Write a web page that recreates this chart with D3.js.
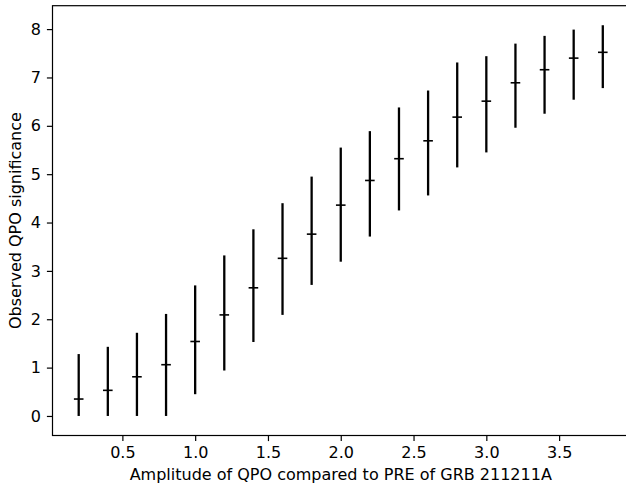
<!DOCTYPE html>
<html>
<head>
<meta charset="UTF-8">
<title>QPO significance vs amplitude</title>
<script type="text/javascript" src="https://d3js.org/d3.v7.min.js"></script>
<style>
body { margin: 0; background: #fff; }
text { font-family: "DejaVu Sans", sans-serif; fill: #000; }
</style>
</head>
<body>
<div id="plot"></div>

<script type="text/javascript">

// data

var amplitude = [0.2, 0.4, 0.6, 0.8, 1.0, 1.2, 1.4, 1.6, 1.8, 2.0,
                 2.2, 2.4, 2.6, 2.8, 3.0, 3.2, 3.4, 3.6, 3.8]
var sigMid    = [0.35, 0.53, 0.81, 1.06, 1.54, 2.09, 2.65, 3.26, 3.76, 4.36,
                 4.87, 5.32, 5.69, 6.18, 6.51, 6.89, 7.16, 7.40, 7.52]
var sigLow    = [0.00, 0.00, 0.00, 0.00, 0.45, 0.94, 1.53, 2.09, 2.71, 3.19,
                 3.71, 4.25, 4.56, 5.14, 5.45, 5.96, 6.25, 6.54, 6.78]
var sigHigh   = [1.28, 1.43, 1.72, 2.11, 2.70, 3.32, 3.86, 4.40, 4.95, 5.55,
                 5.89, 6.38, 6.73, 7.31, 7.44, 7.70, 7.86, 7.99, 8.08]

var xTicks = [0.5, 1.0, 1.5, 2.0, 2.5, 3.0, 3.5]
var yTicks = [0, 1, 2, 3, 4, 5, 6, 7, 8]

var xLabel = "Amplitude of QPO compared to PRE of GRB 211211A"
var yLabel = "Observed QPO significance"

// layout

var figW    = 626
var figH    = 489
var plotL   = 52.5
var plotR   = 629
var plotT   = 5.7
var plotB   = 435.5
var fsize   = "16px"

var points = amplitude.map(function(a, i) {
	return { x: a, mid: sigMid[i], lo: sigLow[i], hi: sigHigh[i] }
})

// matplotlib style 5% margins
var xmin = d3.min(amplitude), xmax = d3.max(amplitude)
var ymin = d3.min(sigLow),    ymax = d3.max(sigHigh)
var xpad = (xmax - xmin) * 0.05
var ypad = (ymax - ymin) * 0.05

var x = d3.scaleLinear().domain([xmin - xpad, xmax + xpad]).range([plotL, plotR])
var y = d3.scaleLinear().domain([ymin - ypad, ymax + ypad]).range([plotB, plotT])

var svg = d3.select("#plot")
	.append("svg")
	.attr("width", figW)
	.attr("height", figH)

// error bars
var bars = svg.append("g").attr("class", "bars")

bars.selectAll(".err")
	.data(points).enter()
	.append("line")
	.attr("class", "err")
	.attr("x1", function(d) { return x(d.x) })
	.attr("x2", function(d) { return x(d.x) })
	.attr("y1", function(d) { return y(d.lo) })
	.attr("y2", function(d) { return y(d.hi) })
	.attr("stroke", "black")
	.attr("stroke-width", 2.3)

// '_' markers
bars.selectAll(".mark")
	.data(points).enter()
	.append("line")
	.attr("class", "mark")
	.attr("x1", function(d) { return x(d.x) - 4.8 })
	.attr("x2", function(d) { return x(d.x) + 4.8 })
	.attr("y1", function(d) { return y(d.mid) })
	.attr("y2", function(d) { return y(d.mid) })
	.attr("stroke", "black")
	.attr("stroke-width", 1.6)

// axes
var xAxis = d3.axisBottom(x)
	.tickValues(xTicks)
	.tickFormat(d3.format(".1f"))
	.tickSize(5.6)
	.tickPadding(6)

var yAxis = d3.axisLeft(y)
	.tickValues(yTicks)
	.tickFormat(d3.format("d"))
	.tickSize(5.6)
	.tickPadding(6)

var gx = svg.append("g")
	.attr("transform", "translate(0," + plotB + ")")
	.call(xAxis)
var gy = svg.append("g")
	.attr("transform", "translate(" + plotL + ",0)")
	.call(yAxis)

gx.select(".domain").remove()
gy.select(".domain").remove()

svg.selectAll(".tick line").attr("stroke", "black").attr("stroke-width", 1.2)
svg.selectAll(".tick text").attr("font-size", fsize).attr("fill", "black")
	.style("font-family", "'DejaVu Sans', sans-serif")

// frame
svg.append("rect")
	.attr("x", plotL)
	.attr("y", plotT)
	.attr("width", plotR - plotL)
	.attr("height", plotB - plotT)
	.attr("fill", "none")
	.attr("stroke", "black")
	.attr("stroke-width", 1.2)

// labels
svg.append("text")
	.attr("x", (plotL + plotR) / 2)
	.attr("y", 480)
	.attr("text-anchor", "middle")
	.attr("font-size", fsize)
	.text(xLabel)

svg.append("text")
	.attr("transform", "translate(20.5," + ((plotT + plotB) / 2) + ") rotate(-90)")
	.attr("text-anchor", "middle")
	.attr("font-size", fsize)
	.text(yLabel)

</script>
</body>
</html>
